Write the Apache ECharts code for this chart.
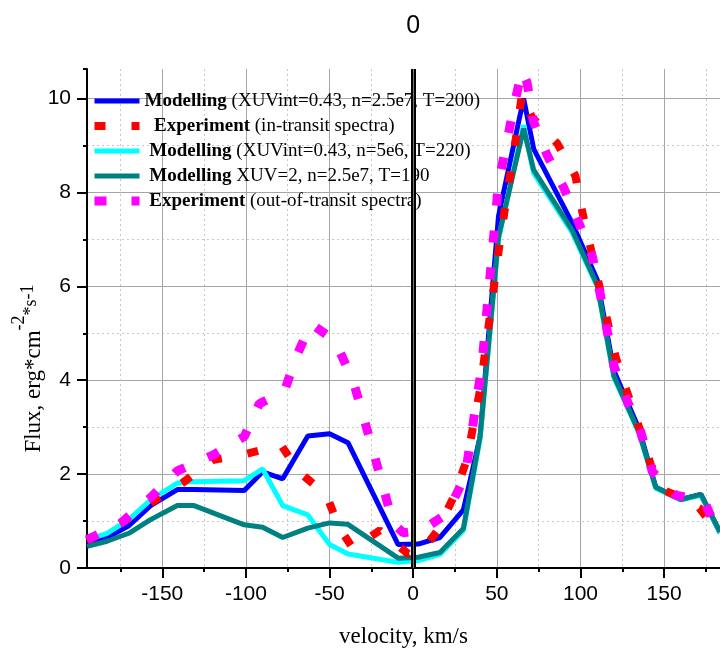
<!DOCTYPE html>
<html>
<head>
<meta charset="utf-8">
<script src="https://cdn.jsdelivr.net/npm/echarts@6/dist/echarts.min.js"></script>
<style>
  html, body { margin: 0; padding: 0; background: #fff; }
  #chart { width: 720px; height: 649px; }
</style>
</head>
<body>
<div id="chart"></div>
<script>
'use strict';

// velocity grid of the model runs, km/s
var modelV = [-195, -183, -170, -157, -141, -131, -101, -90, -78, -63, -50, -39, -9, 3, 16, 30, 40, 51, 66, 72, 95, 110, 120, 135, 145, 160, 172, 183.4];
// XUVint=0.43, n=2.5e7, T=200
var modelA = [0.50, 0.65, 0.90, 1.33, 1.67, 1.67, 1.65, 2.05, 1.90, 2.81, 2.86, 2.67, 0.50, 0.51, 0.65, 1.24, 2.80, 7.50, 10.0, 8.93, 7.35, 6.14, 4.20, 2.96, 1.72, 1.46, 1.57, 0.75];
// XUVint=0.43, n=5e6, T=220
var modelB = [0.60, 0.74, 1.03, 1.45, 1.81, 1.84, 1.86, 2.11, 1.33, 1.13, 0.50, 0.30, 0.12, 0.16, 0.29, 0.80, 2.75, 7.00, 9.43, 8.41, 7.15, 6.00, 4.06, 2.87, 1.70, 1.45, 1.55, 0.75];
// XUV=2, n=2.5e7, T=190
var modelC = [0.46, 0.57, 0.74, 1.03, 1.33, 1.33, 0.92, 0.87, 0.65, 0.85, 0.96, 0.93, 0.21, 0.23, 0.33, 0.84, 2.81, 7.05, 9.36, 8.48, 7.20, 6.03, 4.09, 2.89, 1.72, 1.46, 1.57, 0.77];

// experiment, in-transit spectra
var inTransitV = [-195, -173, -154, -138, -120, -100, -79, -68, -52, -44, -36, -20, -3, 5, 14, 24, 32, 40, 52, 62, 65, 71, 86, 97, 101, 111, 121, 128, 135, 142, 151, 160, 171, 183.4];
var inTransitF = [0.58, 0.99, 1.45, 1.81, 2.30, 2.43, 2.62, 2.04, 1.56, 0.84, 0.42, 0.80, 0.30, 0.35, 0.77, 1.50, 2.30, 3.80, 7.00, 9.30, 10.1, 9.60, 9.05, 8.35, 7.60, 6.05, 4.50, 3.73, 3.00, 2.20, 1.64, 1.50, 1.28, 0.70];

// experiment, out-of-transit spectra
var outTransitV = [-195, -175, -157, -141, -120, -101, -92, -77, -70, -61, -47, -36, -24, -12, -6, 5, 20, 31, 41, 51, 60, 65, 68, 72, 80, 90, 99, 107, 112, 120, 128, 136, 143, 157, 174, 183.4];
var outTransitF = [0.60, 0.95, 1.50, 2.07, 2.40, 2.80, 3.50, 3.76, 4.50, 5.20, 4.85, 4.00, 2.50, 0.95, 0.75, 0.80, 1.15, 1.95, 4.30, 8.20, 9.80, 10.6, 10.35, 9.50, 8.80, 8.10, 7.35, 6.65, 5.80, 4.30, 3.55, 2.90, 2.05, 1.55, 1.43, 0.65];

var legendNames = [
    'Modelling (XUVint=0.43, n=2.5e7, T=200)',
    '  Experiment (in-transit spectra)',
    ' Modelling (XUVint=0.43, n=5e6, T=220)',
    ' Modelling XUV=2, n=2.5e7, T=190',
    ' Experiment (out-of-transit spectra)'
];

var xLabelValues = [-150, -100, -50, 0, 50, 100, 150];
var xMinorValues = [-175, -125, -75, -25, 25, 75, 125, 175];
var yLabelValues = [0, 2, 4, 6, 8, 10];
var yMinorValues = [1, 3, 5, 7, 9];

function pairs(xs, ys) {
    return xs.map(function(x, i) { return [x, ys[i]]; });
}

var xMin = -195, xMax = 183.4, yMin = 0, yMax = 10.63;
var serif = 'Liberation Serif';
var sans = 'Liberation Sans';

// extra axes that only carry grid lines (and the longer major ticks)
function hiddenAxis(dim, values, split) {
    return {
        type: 'value',
        min: dim === 'x' ? xMin : yMin,
        max: dim === 'x' ? xMax : yMax,
        position: dim === 'x' ? 'bottom' : 'left',
        axisLine: { show: false, onZero: false },
        axisTick: { show: !!split.tick, customValues: values, length: 10, lineStyle: { color: '#000', width: 2 } },
        axisLabel: { show: false },
        splitLine: { show: true, lineStyle: split.line }
    };
}

var solidGrid = { color: '#a6a6a6', width: 1, type: 'solid' };
var dotGrid = { color: '#c8c8c8', width: 1, type: [2, 3] };

var option = {
    animation: false,
    backgroundColor: '#fff',
    grid: { left: 87, right: 0, top: 69, bottom: 81, containLabel: false, outerBoundsMode: 'none' },
    legend: {
        data: legendNames,
        orient: 'vertical',
        left: 90,
        top: 91,
        padding: 0,
        itemWidth: 45,
        itemHeight: 8,
        itemGap: 5,
        selectedMode: false,
        lineStyle: { width: 'inherit' },
        itemStyle: { opacity: 0 },
        formatter: function(name) {
            return name.replace(/^(\s*)(\S+)/, '$1{b|$2}');
        },
        textStyle: {
            fontFamily: serif, fontSize: 19, color: '#000', lineHeight: 20,
            rich: { b: { fontFamily: serif, fontSize: 19, fontWeight: 'bold', color: '#000', lineHeight: 20 } }
        }
    },
    xAxis: [
        {
            type: 'value', min: xMin, max: xMax, position: 'bottom',
            name: 'velocity, km/s', nameLocation: 'middle', nameGap: 57, nameMoveOverlap: false,
            nameTextStyle: { fontFamily: serif, fontSize: 23, color: '#000' },
            axisLine: { onZero: false, lineStyle: { color: '#000', width: 2 } },
            axisTick: { customValues: xMinorValues, length: 4, lineStyle: { color: '#000', width: 2 } },
            axisLabel: { customValues: xLabelValues, fontFamily: sans, fontSize: 21, color: '#000', margin: 16 },
            splitLine: { show: false }
        },
        hiddenAxis('x', xLabelValues, { line: solidGrid, tick: true }),
        hiddenAxis('x', xMinorValues, { line: dotGrid })
    ],
    yAxis: [
        {
            type: 'value', min: yMin, max: yMax, position: 'left',
            name: '{m|Flux, erg*cm}{a|-2}{b|*s}{c|-1}',
            nameLocation: 'middle', nameRotate: 90, nameGap: 42, nameMoveOverlap: false,
            nameTextStyle: {
                color: '#000', padding: [0, 100, 0, 0],
                rich: {
                    m: { fontFamily: serif, fontSize: 23, color: '#000', verticalAlign: 'bottom' },
                    a: { fontFamily: serif, fontSize: 18, color: '#000', verticalAlign: 'bottom', padding: [0, 0, 17, 0] },
                    b: { fontFamily: serif, fontSize: 18, color: '#000', verticalAlign: 'bottom', padding: [0, 0, 5, 0] },
                    c: { fontFamily: serif, fontSize: 18, color: '#000', verticalAlign: 'bottom', padding: [0, 0, 8, 0] }
                }
            },
            axisLine: { onZero: false, lineStyle: { color: '#000', width: 2 } },
            axisTick: { customValues: yMinorValues.concat([yMax]), length: 4, lineStyle: { color: '#000', width: 2 } },
            axisLabel: { customValues: yLabelValues, fontFamily: sans, fontSize: 21, color: '#000', margin: 16 },
            splitLine: { show: false }
        },
        hiddenAxis('y', yLabelValues, { line: solidGrid, tick: true }),
        hiddenAxis('y', yMinorValues, { line: dotGrid })
    ],
    series: [
        {
            name: legendNames[0], type: 'line', symbol: 'none',
            data: pairs(modelV, modelA),
            lineStyle: { color: '#0000ff', width: 5 }, itemStyle: { color: '#0000ff' }
        },
        {
            name: legendNames[2], type: 'line', symbol: 'none',
            data: pairs(modelV, modelB),
            lineStyle: { color: '#00ffff', width: 5 }, itemStyle: { color: '#00ffff' }
        },
        {
            name: legendNames[3], type: 'line', symbol: 'none',
            data: pairs(modelV, modelC),
            lineStyle: { color: '#008080', width: 5 }, itemStyle: { color: '#008080' }
        },
        {
            name: legendNames[1], type: 'line', symbol: 'none',
            data: pairs(inTransitV, inTransitF),
            lineStyle: { color: '#ff0000', width: 8, type: [11, 26] }, itemStyle: { color: '#ff0000' }
        },
        {
            name: legendNames[4], type: 'line', symbol: 'none',
            data: pairs(outTransitV, outTransitF),
            lineStyle: { color: '#ff00ff', width: 9, type: [12, 25] }, itemStyle: { color: '#ff00ff' },
            markLine: {
                silent: true,
                symbol: ['none', 'none'],
                data: [
                    {
                        xAxis: 0,
                        lineStyle: { color: '#000', width: 5, type: 'solid' },
                        label: { show: true, position: 'end', formatter: '0', fontFamily: sans, fontSize: 25, color: '#000', distance: 30 }
                    },
                    {
                        xAxis: 0,
                        lineStyle: { color: '#777', width: 1, type: 'solid' },
                        label: { show: false }
                    }
                ]
            }
        }
    ]
};

var myChart = echarts.init(document.getElementById('chart'));
myChart.setOption(option);
</script>
</body>
</html>
